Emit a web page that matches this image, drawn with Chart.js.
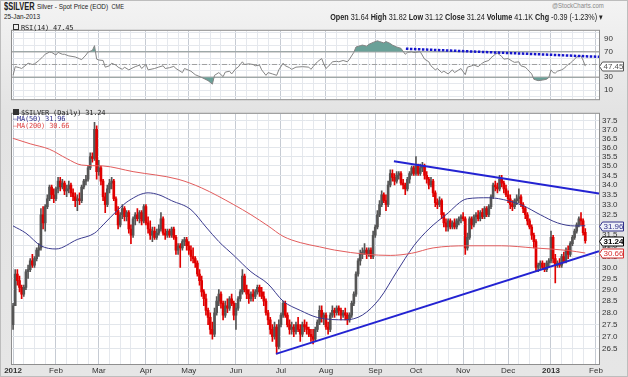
<!DOCTYPE html>
<html>
<head>
<meta charset="utf-8">
<script src="https://cdn.jsdelivr.net/npm/chart.js@4.4.0/dist/chart.umd.min.js"></script>
<style>
    html, body { margin: 0; padding: 0; }
    body { width: 628px; height: 377px; position: relative; overflow: hidden; background: #e8e8e8;
           font-family: "Liberation Sans", Arial, sans-serif; color: #222; }
    #frame { position: absolute; left: 0; top: 0; width: 626px; height: 375px; border: 1px solid #bdbdbd;
             background: linear-gradient(#f3f3f3, #e3e3e3 30%, #e6e6e6); }
    canvas { position: absolute; left: 0; z-index: 1; }
    #rsi { top: 21px; }
    #main { top: 106px; }
    .t { position: absolute; white-space: nowrap; z-index: 2; line-height: 1; }
    .nl { transform: scaleX(0.8); transform-origin: left top; }
    .nr { transform: scaleX(0.8); transform-origin: right top; }
    .mono { font-family: "DejaVu Sans Mono", monospace; font-size: 7px; letter-spacing: -0.2px; }
    .ico { display: inline-block; width: 4px; height: 4px; border: 1px solid #333; margin-right: 2px; vertical-align: 0; }
</style>
</head>
<body>
<div id="frame"></div>

<div class="t" style="left:4px;top:1px;font-size:11px;font-weight:bold;transform:scaleX(0.68);transform-origin:left top;">$SILVER</div>
<div class="t nl" style="left:37px;top:3px;font-size:8px;">Silver - Spot Price (EOD) <span style="font-size:7px">&nbsp;CME</span></div>
<div class="t nl" style="left:4px;top:13px;font-size:8px;">25-Jan-2013</div>
<div class="t nr" style="right:24px;top:2px;font-size:7.5px;color:#888;">@StockCharts.com</div>
<div class="t nr" style="right:25px;top:13px;font-size:9px;"><b>Open</b> 31.64 <b>High</b> 31.82 <b>Low</b> 31.12 <b>Close</b> 31.24 <b>Volume</b> 41.1K <b>Chg</b> -0.39 (-1.23%) &#9662;</div>

<div class="t mono" style="left:13px;top:24px;"><span class="ico"></span>RSI(14) 47.45</div>
<div class="t mono" style="left:13px;top:109px;"><span class="ico" style="background:#333"></span>$SILVER (Daily) 31.24</div>
<div class="t mono" style="left:13px;top:116px;color:#30308a;">&#8212;MA(50) 31.96</div>
<div class="t mono" style="left:13px;top:123px;color:#e04848;">&#8212;MA(200) 30.66</div>

<canvas id="rsi" width="628" height="88"></canvas>
<canvas id="main" width="628" height="271"></canvas>

<script>
// trading-day index 0 = 3 Jan 2012, 267 = 25 Jan 2013
const monthStarts = [0, 20, 40, 62, 82, 104, 125, 146, 169, 188, 210, 231, 251, 272];
const monthLabels = ["2012", "Feb", "Mar", "Apr", "May", "Jun", "Jul", "Aug", "Sep", "Oct", "Nov", "Dec", "2013", "Feb"];
const priceTicks = [26.5, 27, 27.5, 28, 28.5, 29, 29.5, 30, 30.5, 31, 31.5, 32, 32.5, 33, 33.5, 34, 34.5, 35, 35.5, 36, 36.5, 37, 37.5];
const rsiTicks = [0, 10, 20, 30, 40, 50, 60, 70, 80, 90, 100];
const rsiLabelTicks = [10, 30, 70, 90];
const rsiLevels = [70, 50, 30];

const opens = [
    27.5,28.3,29.7,29.4,29.1,28.8,29.1,29.8,29.9,30.3,30.1,30.4,30.8,30.9,32.5,32.1,32.9,33.3,33.9,33.5,
    33.3,33.8,34.2,33.9,34.1,33.7,33.8,34.0,33.6,33.4,33.2,33.3,33.2,33.9,34.2,34.3,34.9,35.5,35.4,37.0,
    34.7,34.9,34.2,33.4,33.0,33.8,34.1,34.2,33.3,32.7,32.0,32.5,32.8,32.4,32.6,31.8,31.5,32.3,32.5,32.3,32.6,32.2,
    32.9,32.1,31.8,31.5,31.7,31.4,31.6,31.8,32.3,31.6,31.5,31.7,31.5,31.8,31.4,30.8,31.0,30.9,31.2,31.3,
    31.0,30.8,30.5,30.4,30.2,29.7,29.4,28.9,28.6,28.1,27.8,27.3,27.1,28.0,28.5,28.8,28.4,27.9,28.3,28.2,28.6,28.4,
    27.9,28.2,28.6,28.9,29.6,29.0,28.8,28.6,28.8,28.7,28.9,29.1,28.9,28.7,28.5,28.0,27.7,27.3,27.0,27.4,26.6,
    27.5,27.9,28.4,27.9,27.5,27.3,27.4,27.2,27.5,27.3,27.1,27.5,27.4,27.3,27.1,27.0,26.9,27.3,27.6,28.1,27.8,
    27.9,27.4,27.3,27.9,28.1,28.0,28.2,28.1,27.9,28.0,27.9,27.7,27.9,28.4,28.8,29.7,30.3,30.6,30.7,30.8,30.6,30.8,30.5,
    31.5,31.9,32.5,33.0,33.5,33.2,33.0,34.0,34.6,34.4,34.2,34.5,34.6,34.1,34.0,33.8,34.3,34.6,34.9,
    34.6,35.0,34.6,34.9,35.0,34.5,34.3,34.0,34.2,33.6,33.1,33.0,33.2,32.5,32.1,31.9,32.2,31.9,32.1,31.9,32.2,32.3,
    32.4,32.3,30.9,31.4,32.3,32.0,32.4,32.5,32.3,32.6,32.4,32.8,32.5,32.9,33.4,34.0,33.9,33.8,34.3,34.1,33.8,
    33.5,33.3,33.0,32.9,33.2,33.3,33.4,33.0,32.8,32.5,32.2,31.9,31.5,31.2,30.0,30.1,30.2,30.0,29.9,30.2,
    30.3,31.4,30.4,30.1,30.2,30.1,30.5,30.3,30.8,30.6,31.1,31.4,31.7,32.0,32.3,32.2,31.64
];
const highs = [
    28.4,29.9,29.9,29.6,29.2,29.2,29.9,30.1,30.4,30.6,30.5,30.9,31.1,32.8,32.9,33.0,33.5,34.0,34.0,33.8,
    33.9,34.4,34.4,34.3,34.2,34.0,34.2,34.1,33.8,33.6,33.5,33.6,34.0,34.3,34.5,35.0,35.7,35.7,37.4,37.2,
    35.3,35.0,34.3,33.6,34.0,34.3,34.4,34.3,33.4,32.9,32.6,33.0,32.9,32.7,32.7,32.0,32.4,32.6,32.8,32.7,32.7,33.0,
    33.0,32.4,32.2,31.9,31.9,31.8,32.0,32.6,32.4,31.8,31.8,31.8,31.9,31.9,31.5,31.1,31.1,31.3,31.4,31.4,
    31.2,31.0,30.9,30.5,30.3,29.9,29.6,29.0,28.8,28.2,28.0,27.6,28.2,28.7,29.0,28.9,28.5,28.5,28.6,28.7,28.8,28.5,
    28.4,28.7,29.0,29.9,29.7,29.2,29.0,28.9,29.0,29.0,29.2,29.2,29.1,28.9,28.6,28.1,27.8,27.5,27.6,27.5,27.7,
    28.0,28.5,28.5,28.0,27.7,27.6,27.5,27.6,27.8,27.5,27.6,27.7,27.6,27.4,27.3,27.3,27.4,27.7,28.3,28.3,28.0,
    28.0,27.6,28.0,28.3,28.2,28.3,28.3,28.2,28.1,28.2,28.0,28.0,28.5,28.9,29.8,30.4,30.8,30.9,31.1,30.9,30.9,30.9,31.7,
    32.0,32.7,33.2,33.7,33.6,33.5,34.2,34.8,34.8,34.6,34.7,34.7,34.7,34.3,34.1,34.4,34.7,35.0,35.0,
    35.5,35.1,35.1,35.2,35.1,34.7,34.4,34.4,34.3,33.7,33.3,33.4,33.3,32.6,32.3,32.3,32.3,32.2,32.3,32.3,32.4,32.5,
    32.6,32.4,31.6,32.4,32.4,32.5,32.6,32.7,32.7,32.8,32.9,32.9,33.0,33.5,34.1,34.2,34.1,34.5,34.5,34.2,34.0,
    33.7,33.5,33.2,33.3,33.5,33.8,33.5,33.1,32.9,32.6,32.3,32.0,31.6,31.3,30.2,30.3,30.3,30.2,30.3,30.4,
    31.7,31.5,30.6,30.3,30.4,30.6,30.7,30.9,31.0,31.2,31.5,31.8,32.1,32.4,32.6,32.3,31.82
];
const lows = [
    27.3,28.3,29.2,28.9,28.6,28.7,29.0,29.5,29.8,30.0,30.0,30.3,30.5,30.8,31.8,31.7,32.8,33.2,33.3,33.1,
    33.2,33.6,33.7,33.8,33.5,33.4,33.6,33.4,33.2,32.9,32.7,33.0,33.1,33.8,34.0,34.2,34.8,35.2,35.3,34.3,
    34.5,34.0,33.2,32.6,32.9,33.6,33.8,33.2,32.5,31.8,31.9,32.3,32.2,32.2,31.6,31.1,31.4,32.0,32.2,32.1,32.0,32.1,
    32.0,31.6,31.3,31.2,31.3,31.3,31.5,31.7,31.5,31.3,31.4,31.4,31.4,31.3,30.6,30.6,30.0,30.8,31.0,30.8,
    30.6,30.3,30.2,30.0,29.6,29.2,28.7,28.3,27.9,27.5,27.1,26.9,27.0,27.9,28.3,28.2,27.7,27.8,28.0,28.1,28.3,27.7,
    27.3,28.1,28.5,28.8,28.9,28.6,28.4,28.5,28.5,28.6,28.8,28.7,28.6,28.3,27.9,27.5,27.1,26.8,26.9,26.3,26.5,
    27.4,27.8,27.8,27.4,27.1,27.1,27.0,27.1,27.2,26.8,27.0,27.2,27.1,27.0,26.8,26.7,26.8,27.2,27.5,27.6,27.5,
    27.3,27.1,27.2,27.8,27.8,27.9,27.9,27.7,27.8,27.7,27.5,27.6,27.8,28.3,28.7,29.6,30.1,30.4,30.6,30.4,30.5,30.4,30.4,
    31.4,31.8,32.4,32.9,33.1,32.7,32.9,33.9,34.2,34.0,34.1,34.3,34.0,33.8,33.5,33.7,34.1,34.5,34.5,
    34.5,34.5,34.5,34.7,34.3,34.1,33.8,33.9,33.4,32.9,32.8,32.9,32.3,31.9,31.7,31.7,31.8,31.8,31.8,31.8,32.0,32.1,
    32.2,30.6,30.8,31.3,31.8,31.9,32.1,32.2,32.2,32.3,32.3,32.4,32.4,32.8,33.3,33.7,33.6,33.7,33.9,33.6,33.4,
    33.1,32.8,32.7,32.8,33.0,33.1,32.9,32.6,32.3,32.0,31.8,31.3,30.9,29.8,29.8,29.9,29.9,29.8,29.8,30.0,
    30.2,30.2,29.3,30.0,30.0,30.0,30.2,30.2,30.4,30.5,31.0,31.3,31.6,31.9,32.0,31.5,31.12
];
const closes = [
    28.3,29.7,29.4,29.1,28.8,29.1,29.8,29.9,30.3,30.1,30.4,30.8,30.9,32.5,32.1,32.9,33.3,33.9,33.5,33.3,
    33.8,34.2,33.9,34.1,33.7,33.8,34.0,33.6,33.4,33.2,33.3,33.2,33.9,34.2,34.3,34.9,35.5,35.4,37.0,34.7,
    34.9,34.2,33.4,33.0,33.8,34.1,34.2,33.3,32.7,32.0,32.5,32.8,32.4,32.6,31.8,31.5,32.3,32.5,32.3,32.6,32.2,32.9,
    32.1,31.8,31.5,31.7,31.4,31.6,31.8,32.3,31.6,31.5,31.7,31.5,31.8,31.4,30.8,31.0,30.9,31.2,31.3,31.0,
    30.8,30.5,30.4,30.2,29.7,29.4,28.9,28.6,28.1,27.8,27.3,27.1,28.0,28.5,28.8,28.4,27.9,28.3,28.2,28.6,28.4,27.9,
    28.2,28.6,28.9,29.6,29.0,28.8,28.6,28.8,28.7,28.9,29.1,28.9,28.7,28.5,28.0,27.7,27.3,27.0,27.4,26.6,27.5,
    27.9,28.4,27.9,27.5,27.3,27.4,27.2,27.5,27.3,27.1,27.5,27.4,27.3,27.1,27.0,26.9,27.3,27.6,28.1,27.8,27.9,
    27.4,27.3,27.9,28.1,28.0,28.2,28.1,27.9,28.0,27.9,27.7,27.9,28.4,28.8,29.7,30.3,30.6,30.7,30.8,30.6,30.8,30.5,31.5,
    31.9,32.5,33.0,33.5,33.2,33.0,34.0,34.6,34.4,34.2,34.5,34.6,34.1,34.0,33.8,34.3,34.6,34.9,34.6,
    35.0,34.6,34.9,35.0,34.5,34.3,34.0,34.2,33.6,33.1,33.0,33.2,32.5,32.1,31.9,32.2,31.9,32.1,31.9,32.2,32.3,32.4,
    32.3,30.9,31.4,32.3,32.0,32.4,32.5,32.3,32.6,32.4,32.8,32.5,32.9,33.4,34.0,33.9,33.8,34.3,34.1,33.8,33.5,
    33.3,33.0,32.9,33.2,33.3,33.4,33.0,32.8,32.5,32.2,31.9,31.5,31.2,30.0,30.1,30.2,30.0,29.9,30.2,30.3,
    31.4,30.4,30.1,30.2,30.1,30.5,30.3,30.8,30.6,31.1,31.4,31.7,32.0,32.3,32.2,31.63,31.24
];

const ma50Days = [0, 6, 13, 20, 30, 38, 42, 49, 54, 63, 68, 74, 83, 90, 96, 103, 111, 119, 126, 134, 142, 155, 163, 171, 179, 187, 194, 202, 212, 222, 231, 238, 246, 254, 262, 267];
const ma50Values = [31.95, 31.6, 31.0, 30.85, 31.3, 31.6, 32.0, 32.75, 33.2, 33.6, 33.5, 33.2, 32.75, 31.9, 31.2, 30.55, 29.8, 29.25, 28.5, 28.1, 27.8, 27.7, 27.9, 28.6, 29.8, 31.0, 31.8, 32.5, 33.3, 33.35, 33.2, 32.95, 32.5, 32.1, 31.95, 31.96];
const ma200Days = [0, 8, 17, 25, 32, 42, 56, 77, 88, 103, 111, 119, 126, 134, 143, 150, 165, 176, 186, 196, 212, 228, 243, 259, 267];
const ma200Values = [36.5, 36.2, 35.9, 35.4, 35.05, 35.0, 34.7, 34.3, 33.85, 33.0, 32.5, 31.95, 31.45, 31.15, 30.95, 30.8, 30.6, 30.55, 30.65, 30.9, 31.0, 31.0, 30.9, 30.78, 30.66];

const upperTrendDays = [177.7, 273.4];
const upperTrendValues = [35.25, 33.56];
const lowerTrendDays = [122.7, 273.4];
const lowerTrendValues = [26.3, 30.75];

const rsiDays = [0,1,3,4,6,7,9,10,12,14,15,17,18,20,21,23,24,26,29,31,32,34,35,37,38,39,40,42,43,45,46,48,49,51,52,54,56,57,59,60,62,63,66,68,70,71,73,75,76,79,80,83,85,88,91,93,94,96,98,99,101,102,104,105,107,108,110,112,113,115,116,118,119,121,123,124,126,127,129,130,132,135,138,139,140,142,144,145,146,148,149,151,152,154,156,157,159,160,162,163,165,166,168,170,171,173,174,176,177,179,181,183,184,186,187,189,190,192,194,195,197,198,200,201,203,205,206,208,209,211,212,214,215,217,219,220,222,223,225,226,228,229,231,233,234,236,237,239,240,242,243,245,247,249,250,251,252,253,254,256,257,258,259,260,261,262,263,264,265,266,267];
const rsiValues = [33,46.6,45,43.7,49,52,50,51,56,62.7,66,69.5,69,64.8,69,66,66,63.5,61.8,59,57.6,64.8,69.5,72,79.5,58.4,57,56.3,45.8,48,52,49,45.8,42.4,45.8,41.6,45,46.6,49,43.7,50,41.6,43.7,46,48,43.7,45,47,43.7,37.3,43.7,39.5,34,29.7,24.7,19.2,33,37.3,31,38,39.5,35.2,43.7,45.8,54.2,50,51,50,48,49,41.6,33,37.3,35.2,33,41.6,52,48,45,42.4,45.8,46.6,45.8,42.4,46.6,54.2,59.3,50.8,43.7,50,54.2,55,54.2,56.3,54.2,58.4,69,77.4,79.5,80.4,78.7,81.6,84.6,87.1,85.9,83.8,85.9,82.9,80.4,77.4,75.3,66,69,69.8,68.6,69.6,70,58.4,54.2,47.9,41.6,43.7,37.3,39.5,35.2,41.6,37.3,41.6,43.7,34,45.8,47.9,49.2,46.6,52.1,54.2,56.3,60.5,66,67.7,62.7,58.4,59.3,55,53.4,54.2,47.9,45.8,42.4,35.2,26.8,24.7,25.5,27,29.7,41.6,37.3,36.5,39.5,41.6,43.7,46.6,50,52.1,55,58.4,61.8,62.5,63.5,56.3,47.45];
const rsiTrendDays = [183.3, 273.4];
const rsiTrendValues = [74.7, 62];

(function () {
    "use strict";

    const X_MIN = -0.5, X_MAX = 273.4;
    const RED = "#e00000", DARK = "#555555";

    // weekly grid lines between the month lines
    const gridDays = [];
    monthStarts.forEach((m, k) => {
        gridDays.push(m);
        const next = monthStarts[k + 1] || X_MAX;
        for (let d = m + 5; d < next - 2; d += 5) { gridDays.push(d); }
    });

    const labelFor = v => {
        const k = monthStarts.indexOf(v);
        return k >= 0 ? monthLabels[k] : "";
    };
    const pts = (xs, ys) => xs.map((x, k) => ({ x: x, y: ys[k] }));

    function xScale(showLabels) {
        return {
            type: "linear", min: X_MIN, max: X_MAX, offset: false,
            afterBuildTicks: s => { s.ticks = gridDays.map(v => ({ value: v })); },
            afterFit: s => { s.height = showLabels ? 13 : 0; },
            grid: { drawTicks: false, offset: false,
                color: c => monthStarts.includes(c.tick && c.tick.value) ? "#c6cbd3" : "#e5e8ed" },
            border: { display: false },
            ticks: {
                display: showLabels, autoSkip: false, maxRotation: 0, padding: 2, color: "#333",
                font: c => ({ size: 8, weight: /^\d{4}$/.test(labelFor(c.tick && c.tick.value)) ? "bold" : "normal" }),
                callback: v => labelFor(v),
            },
        };
    }

    const panel = {
        id: "panel",
        beforeDraw(chart) {
            const { ctx, chartArea: a } = chart;
            ctx.save();
            ctx.fillStyle = "#ffffff";
            ctx.fillRect(a.left, a.top, a.right - a.left, a.bottom - a.top);
            ctx.restore();
        },
        afterDraw(chart, args, opts) {
            const { ctx, chartArea: a } = chart;
            const y = chart.scales.y;
            ctx.save();
            ctx.strokeStyle = "#8f8f8f";
            ctx.lineWidth = 1;
            ctx.strokeRect(a.left - 0.5, a.top - 0.5, a.right - a.left + 1, a.bottom - a.top + 1);
            (opts.boxes || []).forEach(b => {
                const py = Math.round(y.getPixelForValue(b.value)) + 0.5;
                const x = a.right + 3.5, w = 21, h = 9;
                ctx.beginPath();
                ctx.moveTo(x - 3, py);
                ctx.lineTo(x, py - h / 2);
                ctx.lineTo(x + w, py - h / 2);
                ctx.lineTo(x + w, py + h / 2);
                ctx.lineTo(x, py + h / 2);
                ctx.closePath();
                ctx.fillStyle = b.fill;
                ctx.fill();
                ctx.strokeStyle = b.color;
                ctx.stroke();
                ctx.fillStyle = b.color;
                ctx.font = (b.bold ? "bold " : "") + "8px 'Liberation Sans', Arial";
                ctx.textBaseline = "middle";
                ctx.fillText(b.value.toFixed(2), x + 1, py + 0.5);
            });
            ctx.restore();
        },
    };

    const common = {
        responsive: false, animation: false, devicePixelRatio: 1, events: [],
        plugins: { legend: { display: false }, tooltip: { enabled: false } },
    };

    // ---- RSI panel ----
    const lastRsi = rsiValues[rsiValues.length - 1];
    new Chart(document.getElementById("rsi"), {
        type: "line",
        data: {
            datasets: [
                ...rsiLevels.map(lv => ({
                    data: pts([X_MIN, X_MAX], [lv, lv]), borderColor: lv === 50 ? "#a0a0a0" : "#ababab",
                    borderWidth: lv === 50 ? 1 : 1.5, borderDash: lv === 50 ? [5, 2, 1, 2] : [],
                    pointRadius: 0, order: 5,
                })),
                { data: pts(rsiDays, rsiValues), borderColor: "rgba(0,0,0,0)", borderWidth: 0, pointRadius: 0,
                  fill: { target: { value: 30 }, above: "rgba(0,0,0,0)", below: "#6aa198" }, order: 4 },
                { data: pts(rsiDays, rsiValues), borderColor: "#858585", borderWidth: 1, pointRadius: 0,
                  fill: { target: { value: 70 }, above: "#6aa198", below: "rgba(0,0,0,0)" }, order: 3 },
                { data: pts(rsiTrendDays, rsiTrendValues), borderColor: "#1515cc", borderWidth: 2.5,
                  borderDash: [2.5, 1.5], pointRadius: 0, order: 1 },
            ],
        },
        options: {
            ...common,
            layout: { padding: { left: 12, right: 0, top: 2, bottom: 1 } },
            scales: {
                x: xScale(false),
                y: {
                    type: "linear", position: "right", min: -4.4, max: 102.8,
                    afterBuildTicks: s => { s.ticks = rsiTicks.map(v => ({ value: v })); },
                    afterFit: s => { s.width = 29; },
                    grid: { color: "#e5e8ed", drawTicks: false }, border: { display: false },
                    ticks: { autoSkip: false, padding: 5, color: "#333", font: { size: 8 },
                        callback: v => rsiLabelTicks.includes(v) ? String(v) : "" },
                },
            },
            plugins: { ...common.plugins,
                panel: { boxes: [{ value: lastRsi, color: "#555", fill: "#fff" }] } },
        },
        plugins: [panel],
    });

    // ---- price panel ----
    const days = closes.map((c, i) => i);
    const barColors = days.map(i => closes[i] < (i ? closes[i - 1] : opens[i]) ? RED : DARK);
    const last = closes.length - 1;

    new Chart(document.getElementById("main"), {
        type: "bar",
        data: {
            datasets: [
                { type: "line", data: pts(ma200Days, ma200Values), borderColor: "#e25c5c", borderWidth: 1,
                  pointRadius: 0, cubicInterpolationMode: "monotone", order: 2 },
                { type: "line", data: pts(ma50Days, ma50Values), borderColor: "#3b3b8f", borderWidth: 1,
                  pointRadius: 0, cubicInterpolationMode: "monotone", order: 2 },
                { data: days.map(i => ({ x: i, y: [lows[i], highs[i]] })), backgroundColor: barColors,
                  barThickness: 1, grouped: false, order: 4 },
                { data: days.map(i => ({ x: i, y: [opens[i], closes[i]] })), backgroundColor: barColors,
                  barThickness: 2, grouped: false, minBarLength: 1, order: 3 },
                { type: "line", data: pts(upperTrendDays, upperTrendValues), borderColor: "#2323d2",
                  borderWidth: 2, pointRadius: 0, order: 1 },
                { type: "line", data: pts(lowerTrendDays, lowerTrendValues), borderColor: "#2323d2",
                  borderWidth: 2, pointRadius: 0, order: 1 },
            ],
        },
        options: {
            ...common,
            layout: { padding: { left: 12, right: 0, top: 2, bottom: 0 } },
            scales: {
                x: xScale(true),
                y: {
                    type: "logarithmic", position: "right", min: 25.9, max: 37.89,
                    afterBuildTicks: s => { s.ticks = priceTicks.map(v => ({ value: v })); },
                    afterFit: s => { s.width = 29; },
                    grid: { color: "#e2e6eb", drawTicks: false }, border: { display: false },
                    ticks: { autoSkip: false, padding: 3, color: "#333", font: { size: 8 },
                        callback: v => Number(v).toFixed(1) },
                },
            },
            plugins: { ...common.plugins,
                panel: { boxes: [
                    { value: ma50Values[ma50Values.length - 1], color: "#30308a", fill: "#eef0f8" },
                    { value: closes[last], color: "#000", fill: "#fff", bold: true },
                    { value: ma200Values[ma200Values.length - 1], color: "#d83030", fill: "#fff" },
                ] } },
        },
        plugins: [panel],
    });
})();
</script>
</body>
</html>
